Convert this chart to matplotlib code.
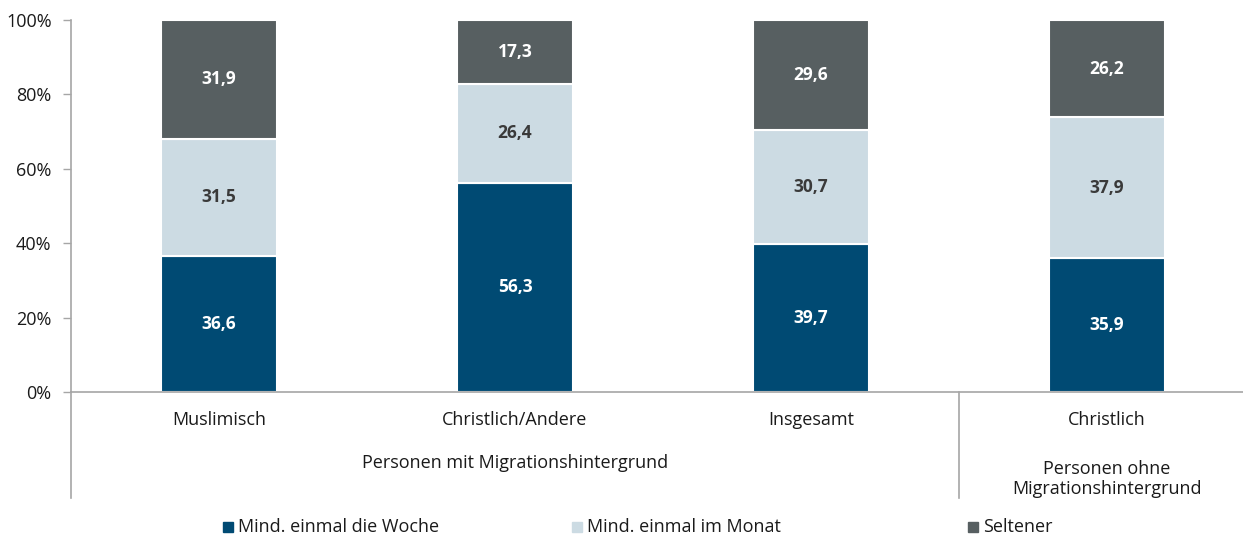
import matplotlib.pyplot as plt
from matplotlib.lines import Line2D
from matplotlib.patches import Rectangle

plt.rcParams['font.family'] = ['Open Sans', 'DejaVu Sans']

categories = ["Muslimisch", "Christlich/Andere", "Insgesamt", "Christlich"]
groups = ["Personen mit Migrationshintergrund", "Personen ohne\nMigrationshintergrund"]
woche = [36.6, 56.3, 39.7, 35.9]
monat = [31.5, 26.4, 30.7, 37.9]
seltener = [31.9, 17.3, 29.6, 26.2]
series_names = ["Mind. einmal die Woche", "Mind. einmal im Monat", "Seltener"]
colors = ["#004a73", "#ccdbe3", "#575f61"]
label_colors = ["white", "#3a3a3a", "white"]

W, H = 1243, 538
fig = plt.figure(figsize=(W / 100, H / 100), dpi=100)
ax_left, ax_right, ax_top, ax_bot = 71, 1243, 20, 392
ax = fig.add_axes([ax_left / W, 1 - ax_bot / H, (ax_right - ax_left) / W, (ax_bot - ax_top) / H])

x = list(range(len(categories)))
bw = 0.39
bottom = [0.0] * len(x)
for vals, c, lc, name in zip([woche, monat, seltener], colors, label_colors, series_names):
    ax.bar(x, vals, bw, bottom=bottom, color=c, edgecolor="white", linewidth=1.5, label=name, zorder=2)
    for xi, v, b in zip(x, vals, bottom):
        ax.text(xi, b + v / 2, f"{v:.1f}".replace(".", ","), ha="center", va="center",
                color=lc, fontsize=12.5, fontweight="bold", zorder=3)
    bottom = [b + v for b, v in zip(bottom, vals)]

unit = 296
ax.set_xlim(-0.5, -0.5 + (ax_right - ax_left) / unit)
ax.set_ylim(0, 100)
ax.set_yticks([0, 20, 40, 60, 80, 100])
ax.set_yticklabels([f"{t}%" for t in [0, 20, 40, 60, 80, 100]], fontsize=13, color="#1a1a1a")
ax.tick_params(axis="y", length=6, color="#a6a6a6", width=1, pad=8)
ax.set_xticks([])
for s in ["top", "right"]:
    ax.spines[s].set_visible(False)
for s in ["left", "bottom"]:
    ax.spines[s].set_color("#a6a6a6")
    ax.spines[s].set_linewidth(1.2)

trans = ax.get_xaxis_transform()
ext = -(498 - ax_bot) / (ax_bot - ax_top)
for xs in [-0.5, 2.5]:
    ax.add_line(Line2D([xs, xs], [0, ext], transform=trans, color="#a6a6a6", lw=1.2, clip_on=False))

def ay(py):
    return -(py - ax_bot) / (ax_bot - ax_top)

for xi, c in zip(x, categories):
    ax.text(xi, ay(420), c, transform=trans, ha="center", va="center", fontsize=13, color="#1a1a1a")
ax.text(1, ay(463), groups[0], transform=trans, ha="center", va="center", fontsize=13, color="#1a1a1a")
ax.text(3, ay(479), groups[1], transform=trans, ha="center", va="center", fontsize=13, color="#1a1a1a",
        linespacing=1.15)

# legend entries placed manually (handle x positions in pixels)
leg_x = [223, 572, 968]
leg_y = 527
sq = 10
for lx, c, name in zip(leg_x, colors, series_names):
    fig.patches.append(Rectangle((lx / W, 1 - (leg_y + sq / 2) / H), sq / W, sq / H,
                                 transform=fig.transFigure, color=c, figure=fig))
    fig.text((lx + sq + 5) / W, 1 - leg_y / H, name, ha="left", va="center", fontsize=13, color="#1a1a1a")

fig.savefig("out.png", dpi=100)
